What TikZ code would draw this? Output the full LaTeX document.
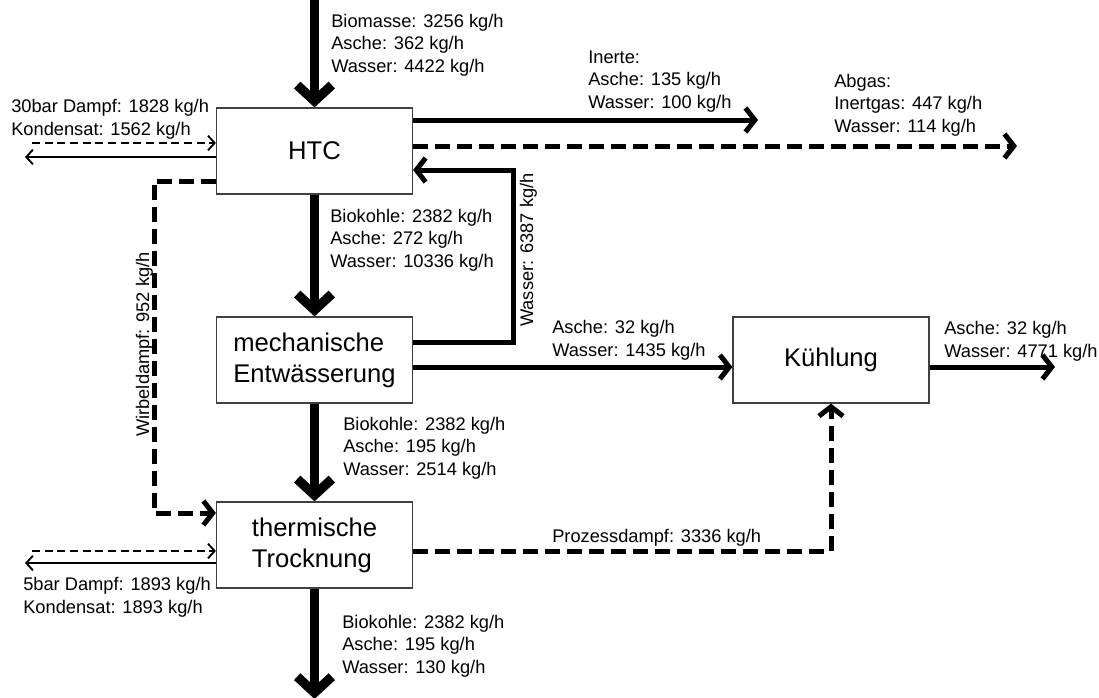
\documentclass[tikz,border=0pt]{standalone}
\usepackage{fontspec}
\setmainfont{Liberation Sans}
\usetikzlibrary{positioning, arrows.meta, calc}

\begin{document}
\begin{tikzpicture}[x=0.75pt, y=-0.75pt, font=\fontsize{13.7}{16.7}\selectfont]

    % --- Definition der Stile ---
    \tikzset{
        block/.style={rectangle, draw=black!75, line width=0.9pt, minimum width=147pt, minimum height=64.5pt, align=left, font=\fontsize{19.2}{23.3}\selectfont},
        lbl/.style={anchor=base west, align=left, inner sep=0pt},
        thickflow/.style={line width=7pt, -{Straight Barb[length=12pt, width=26pt]}},
        flow/.style={line width=3.75pt, -{Straight Barb[length=7pt, width=18pt]}},
        dashflow/.style={flow, dash pattern=on 11pt off 5.5pt},
        thinflow/.style={line width=1.4pt, -{Straight Barb[length=5pt, width=11pt]}},
        thindash/.style={thinflow, dash pattern=on 6pt off 3.5pt}
    }

    \fill[white] (0,0) rectangle (1099,697);
    \useasboundingbox (0,0) rectangle (1099,697);

    % --- Bloecke ---
    \node[block] (HTC) at (314.5,151) {HTC};
    \node[block] (ME)  at (314.5,360) {mechanische\\Entwässerung};
    \node[block] (TT)  at (314.5,545) {thermische\\Trocknung};
    \node[block] (KU)  at (831,360)   {Kühlung};

    % --- Hilfspunkte ---
    \coordinate (bio)         at (314.5,0);
    \coordinate (dampf30)     at (32,143);
    \coordinate (kond30)      at (25,157);
    \coordinate (inerte)      at (758,120);
    \coordinate (abgas)       at (1017,146);
    \coordinate (rueckoben)   at (513,170);
    \coordinate (rueckunten)  at (513,342);
    \coordinate (wirbeloben)  at (154,181);
    \coordinate (wirbelunten) at (154,513);
    \coordinate (mekue)       at (600,367);
    \coordinate (kueout)      at (1055,367);
    \coordinate (prozess)     at (831,551);
    \coordinate (dampf5)      at (32,551);
    \coordinate (kond5)       at (25,563);
    \coordinate (produkt)     at (314.5,699);

    % Biomasse (Grundlinie = letzte Zeile)
    \draw[thickflow] (bio) -- (HTC.north);
    \node[lbl] at (331,72) {Biomasse: 3256 kg/h\\Asche: 362 kg/h\\Wasser: 4422 kg/h};

    % 30bar Dampf / Kondensat
    \draw[thindash] (dampf30) -- (dampf30 -| HTC.west);
    \draw[thinflow] (kond30 -| HTC.west) -- (kond30);
    \node[lbl] at (11,135) {30bar Dampf: 1828 kg/h\\Kondensat: 1562 kg/h};

    % Inerte
    \draw[flow] (inerte -| HTC.east) -- (inerte);
    \node[lbl] at (588,108) {Inerte:\\Asche: 135 kg/h\\Wasser: 100 kg/h};

    % Abgas
    \draw[dashflow] (abgas -| HTC.east) -- (abgas);
    \node[lbl] at (834,132) {Abgas:\\Inertgas: 447 kg/h\\Wasser: 114 kg/h};

    % Rueckfuehrung Wasser
    \draw[flow] (rueckunten -| ME.east) -- (rueckunten) -- (rueckoben) -- (rueckoben -| HTC.east);
    \node[lbl, rotate=90] at (533,327) {Wasser: 6387 kg/h};

    % Wirbeldampf
    \draw[dashflow] (wirbeloben -| HTC.west) -- (wirbeloben) -- (wirbelunten) -- (wirbelunten -| TT.west);
    \node[lbl, rotate=90] at (149,437) {Wirbeldampf: 952 kg/h};

    % Biokohle HTC -> mech. Entwaesserung
    \draw[thickflow] (HTC.south) -- (ME.north);
    \node[lbl] at (330,267) {Biokohle: 2382 kg/h\\Asche: 272 kg/h\\Wasser: 10336 kg/h};

    % Abwasser -> Kuehlung
    \draw[flow] (mekue -| ME.east) -- (mekue -| KU.west);
    \node[lbl] at (552,356) {Asche: 32 kg/h\\Wasser: 1435 kg/h};
    \draw[flow] (mekue -| KU.east) -- (kueout);
    \node[lbl] at (944,357) {Asche: 32 kg/h\\Wasser: 4771 kg/h};

    % Biokohle mech. Entwaesserung -> Trocknung
    \draw[thickflow] (ME.south) -- (TT.north);
    \node[lbl] at (343,475) {Biokohle: 2382 kg/h\\Asche: 195 kg/h\\Wasser: 2514 kg/h};

    % Prozessdampf
    \draw[dashflow] (prozess -| TT.east) -- (prozess) -- (KU.south);
    \node[lbl] at (552,542) {Prozessdampf: 3336 kg/h};

    % 5bar Dampf / Kondensat
    \draw[thindash] (dampf5) -- (dampf5 -| TT.west);
    \draw[thinflow] (kond5 -| TT.west) -- (kond5);
    \node[lbl] at (23,613) {5bar Dampf: 1893 kg/h\\Kondensat: 1893 kg/h};

    % Produkt
    \draw[thickflow] (TT.south) -- (produkt);
    \node[lbl] at (342,673) {Biokohle: 2382 kg/h\\Asche: 195 kg/h\\Wasser: 130 kg/h};

\end{tikzpicture}
\end{document}
